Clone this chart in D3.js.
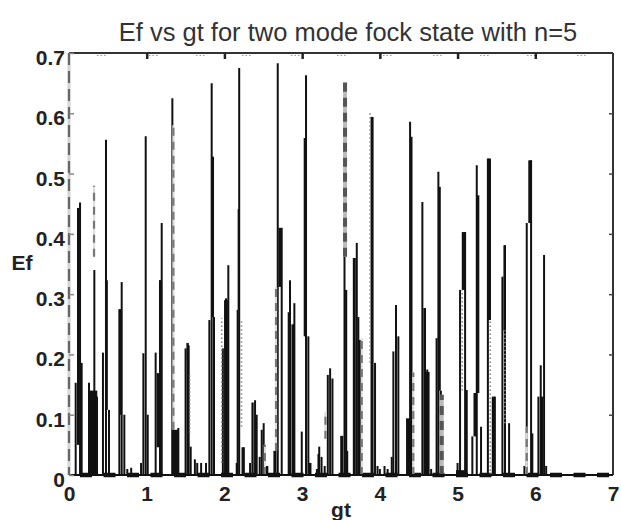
<!DOCTYPE html>
<html>
<head>
<meta charset="utf-8">
<script src="https://cdn.jsdelivr.net/npm/d3@7"></script>
<style>
  html, body { margin: 0; padding: 0; background: #fff; }
  svg { display: block; }
  text { font-family: "Liberation Sans", Arial, Helvetica, sans-serif; fill: #222; }
</style>
</head>
<body>
<svg id="chart" width="621" height="520"></svg>
<script>
// ---------- data ----------
const titleText = "Ef vs gt for two mode fock state with n=5";
const xLabel = "gt";
const yLabel = "Ef";
const xTicks = [0, 1, 2, 3, 4, 5, 6, 7];
const xTickLabels = ["0", "1", "2", "3", "4", "5", "6", "7"];
const yTicks = [0, 0.1, 0.2, 0.3, 0.4, 0.5, 0.6, 0.7];
const yTickLabels = ["0", "0.1", "0.2", "0.3", "0.4", "0.5", "0.6", "0.7"];

// thin spikes: [gt, Ef peak]
const spikes = [
  [0.086,0.153],[0.142,0.452],[0.163,0.186],
  [0.257,0.153],[0.326,0.34],[0.36,0.13],
  [0.437,0.203],[0.476,0.556],[0.515,0.108],
  [0.648,0.275],[0.678,0.32],[0.712,0.1],[0.75,0.01],[0.8,0.012],
  [0.927,0.02],[0.957,0.202],[0.987,0.562],[1.013,0.1],
  [1.115,0.203],[1.171,0.323],[1.193,0.418],
  [1.33,0.625],[1.407,0.078],
  [1.5,0.21],[1.525,0.219],[1.54,0.215],[1.566,0.047],[1.62,0.026],[1.65,0.02],[1.7,0.02],
  [1.763,0.02],[1.806,0.257],[1.836,0.65],[1.866,0.262],
  [1.98,0.21],[2.02,0.293],[2.05,0.348],
  [2.158,0.02],[2.17,0.274],[2.19,0.675],[2.25,0.046],
  [2.33,0.02],[2.36,0.12],[2.394,0.124],[2.415,0.1],
  [2.454,0.03],[2.48,0.075],[2.505,0.086],
  [2.686,0.683],[2.737,0.41],
  [2.844,0.323],[2.9,0.285],
  [2.995,0.072],[3.05,0.663],[3.08,0.23],
  [3.19,0.01],[3.21,0.035],[3.22,0.047],[3.25,0.03],[3.29,0.015],
  [3.33,0.166],[3.36,0.177],[3.39,0.16],
  [3.545,0.362],[3.58,0.04],
  [3.665,0.36],[3.703,0.385],[3.723,0.262],
  [3.904,0.594],[3.938,0.186],[3.97,0.015],[4.0,0.01],
  [4.06,0.015],[4.1,0.01],[4.153,0.03],[4.174,0.205],[4.208,0.282],[4.238,0.23],
  [4.389,0.586],
  [4.547,0.453],[4.61,0.175],[4.66,0.01],
  [4.73,0.227],[4.753,0.503],[4.785,0.14],
  [5.0,0.02],[5.032,0.307],[5.097,0.403],[5.118,0.141],
  [5.19,0.064],[5.247,0.514],[5.302,0.08],
  [5.39,0.525],[5.48,0.13],
  [5.577,0.329],[5.61,0.381],[5.663,0.086],
  [5.86,0.015],[5.89,0.418],[5.946,0.522],[5.962,0.069],
  [6.04,0.13],[6.07,0.182],[6.113,0.365],[6.14,0.015]
];

// filled dense segments: [gt0, gt1, Ef low, Ef high]
const blocks = [
  [0.103,0.135,0.05,0.443],
  [0.266,0.364,0,0.14],
  [0.463,0.5,0.108,0.323],
  [0.648,0.672,0.1,0.275],
  [1.128,1.19,0.046,0.169],[1.158,1.19,0.169,0.323],
  [1.33,1.35,0.075,0.315],[1.32,1.41,0,0.075],
  [1.515,1.54,0.19,0.219],
  [1.836,1.866,0.262,0.528],
  [1.995,2.045,0,0.29],
  [2.17,2.2,0.274,0.441],[2.22,2.25,0,0.046],
  [2.355,2.37,0,0.12],
  [2.53,2.565,0,0.015],
  [2.63,2.67,0,0.04],[2.695,2.73,0.312,0.41],
  [2.814,2.845,0,0.27],[2.862,2.9,0,0.25],
  [3.02,3.06,0.23,0.559],[3.08,3.12,0,0.02],
  [3.49,3.53,0,0.065],[3.552,3.58,0,0.307],
  [3.66,3.69,0,0.36],[3.73,3.77,0,0.224],
  [3.88,3.916,0,0.594],
  [4.337,4.39,0,0.094],[4.39,4.42,0,0.561],
  [4.56,4.594,0,0.277],[4.58,4.64,0,0.171],
  [4.753,4.784,0.14,0.478],
  [5.054,5.097,0.307,0.403],[4.98,5.12,0,0.008],
  [5.205,5.24,0.064,0.136],[5.247,5.28,0.136,0.464],
  [5.39,5.43,0.257,0.525],[5.44,5.48,0,0.13],
  [5.59,5.62,0.24,0.381],
  [5.91,5.955,0.418,0.522],
  [6.07,6.1,0,0.13]
];

// grey dashed traces: [gt, Ef low, Ef high, heavy(1)/light(0)]
const dashedTraces = [
  [0.322,0.362,0.48,0],
  [1.343,0.075,0.58,0],
  [2.52,0,0.05,0],
  [2.664,0.04,0.312,0],
  [3.3,0.06,0.105,0],
  [3.552,0.362,0.652,1],
  [3.767,0,0.227,0],
  [4.43,0,0.17,0],
  [4.796,0,0.133,1],
  [5.89,0,0.08,0]
];

// dotted traces: [gt, Ef low, Ef high]
const dottedTraces = [
  [1.553,0.07,0.169],
  [1.965,0.02,0.26],
  [2.22,0.08,0.255],
  [3.874,0.186,0.602],
  [5.06,0.14,0.307],
  [5.42,0,0.257],
  [5.61,0.086,0.24]
];

// faint dotted marks along the top edge
const topMarks = [0.425, 1.094, 1.699, 2.29, 2.92, 3.513, 4.105, 4.749, 5.354, 5.958, 6.602];

// ---------- drawing ----------
const svg = d3.select("#chart");
const x = d3.scaleLinear().domain([0, 7]).range([69, 613]);
const y = d3.scaleLinear().domain([0, 0.7]).range([475, 53]);

// title
svg.append("text")
  .attr("x", 348).attr("y", 41)
  .attr("text-anchor", "middle")
  .attr("font-size", 25.5)
  .style("fill", "#333")
  .text(titleText);

// axis labels
svg.append("text")
  .attr("x", 22).attr("y", 270)
  .attr("text-anchor", "middle")
  .attr("font-size", 21).attr("font-weight", "bold")
  .text(yLabel);
svg.append("text")
  .attr("x", 341).attr("y", 517)
  .attr("text-anchor", "middle")
  .attr("font-size", 21).attr("font-weight", "bold")
  .text(xLabel);

const plot = svg.append("g");

// baseline dashes (data at zero)
plot.append("line")
  .attr("x1", x(0)).attr("x2", x(7))
  .attr("y1", y(0)).attr("y2", y(0))
  .attr("stroke", "#111").attr("stroke-width", 4.5)
  .attr("stroke-dasharray", "12,11.5")
  .attr("stroke-dashoffset", -((550 - x(0)) % 23.5) + 23.5);

// blocks
plot.selectAll("rect.block").data(blocks).join("rect")
  .attr("class", "block")
  .attr("x", d => x(d[0]))
  .attr("width", d => Math.max(1.5, x(d[1]) - x(d[0])))
  .attr("y", d => y(d[3]))
  .attr("height", d => Math.max(1, y(d[2]) - y(d[3])))
  .attr("fill", "#111");

// spikes
plot.selectAll("line.spike").data(spikes).join("line")
  .attr("class", "spike")
  .attr("x1", d => x(d[0])).attr("x2", d => x(d[0]))
  .attr("y1", y(0)).attr("y2", d => y(d[1]))
  .attr("stroke", "#111").attr("stroke-width", 2);

// dashed traces
plot.selectAll("line.dtrace").data(dashedTraces).join("line")
  .attr("class", "dtrace")
  .attr("x1", d => x(d[0])).attr("x2", d => x(d[0]))
  .attr("y1", d => y(d[1])).attr("y2", d => y(d[2]))
  .attr("stroke", d => d[3] ? "#bbb" : "#ddd")
  .attr("stroke-width", d => d[3] ? 4 : 2.2);
plot.selectAll("line.dtrace2").data(dashedTraces).join("line")
  .attr("class", "dtrace2")
  .attr("x1", d => x(d[0])).attr("x2", d => x(d[0]))
  .attr("y1", d => y(d[1])).attr("y2", d => y(d[2]))
  .attr("stroke", d => d[3] ? "#555" : "#777")
  .attr("stroke-width", d => d[3] ? 4 : 2.2)
  .attr("stroke-dasharray", d => d[3] ? "9,6" : "8,6");

// dotted traces
plot.selectAll("line.dot").data(dottedTraces).join("line")
  .attr("class", "dot")
  .attr("x1", d => x(d[0])).attr("x2", d => x(d[0]))
  .attr("y1", d => y(d[1])).attr("y2", d => y(d[2]))
  .attr("stroke", "#888").attr("stroke-width", 1.6)
  .attr("stroke-dasharray", "1.5,2.5");

// top dotted marks
plot.selectAll("line.tm").data(topMarks).join("line")
  .attr("class", "tm")
  .attr("x1", d => x(d) - 5).attr("x2", d => x(d) + 5)
  .attr("y1", y(0.7) + 2.5).attr("y2", y(0.7) + 2.5)
  .attr("stroke", "#999").attr("stroke-width", 1.2)
  .attr("stroke-dasharray", "1.5,2");

// frame: top, right, bottom solid; left dashed grey
svg.append("line").attr("x1", x(0)).attr("x2", x(7)).attr("y1", y(0.7)).attr("y2", y(0.7))
  .attr("stroke", "#333").attr("stroke-width", 2);
svg.append("line").attr("x1", x(7)).attr("x2", x(7)).attr("y1", y(0.7)).attr("y2", y(0))
  .attr("stroke", "#333").attr("stroke-width", 2);
svg.append("line").attr("x1", x(0)).attr("x2", x(7)).attr("y1", y(0)).attr("y2", y(0))
  .attr("stroke", "#111").attr("stroke-width", 2);
svg.append("line").attr("x1", x(0)).attr("x2", x(0)).attr("y1", y(0.7)).attr("y2", y(0))
  .attr("stroke", "#d4d4d4").attr("stroke-width", 3);
svg.append("line").attr("x1", x(0)).attr("x2", x(0)).attr("y1", y(0.7)).attr("y2", y(0))
  .attr("stroke", "#666").attr("stroke-width", 2.2)
  .attr("stroke-dasharray", "12,6");

// left axis (ticks + labels)
const yAxis = d3.axisLeft(y).tickValues(yTicks)
  .tickFormat((d, i) => yTickLabels[i]).tickSize(-5).tickPadding(4);
const gy = svg.append("g").attr("transform", `translate(${x(0)},0)`).call(yAxis);
gy.select(".domain").remove();
gy.selectAll(".tick line").attr("stroke", "#888").attr("stroke-width", 1.5);
gy.selectAll(".tick text")
  .attr("font-size", 21).attr("font-weight", "bold")
  .attr("dy", 11.5)
  .style("font-family", "'Liberation Sans', Arial, sans-serif")
  .style("fill", "#222");

// right axis ticks
const yAxisR = d3.axisRight(y).tickValues(yTicks.slice(1, 7)).tickFormat("").tickSize(-4);
const gyr = svg.append("g").attr("transform", `translate(${x(7)},0)`).call(yAxisR);
gyr.select(".domain").remove();
gyr.selectAll(".tick line").attr("stroke", "#444").attr("stroke-width", 1.5);

// bottom axis labels
const xAxis = d3.axisBottom(x).tickValues(xTicks)
  .tickFormat((d, i) => xTickLabels[i]).tickSize(0).tickPadding(0);
const gx = svg.append("g").attr("transform", `translate(0,${y(0)})`).call(xAxis);
gx.select(".domain").remove();
gx.selectAll(".tick text")
  .attr("y", 26).attr("dy", 0)
  .attr("font-size", 21).attr("font-weight", "bold")
  .style("font-family", "'Liberation Sans', Arial, sans-serif")
  .style("fill", "#222");

// top axis ticks
const xAxisT = d3.axisTop(x).tickValues(xTicks.slice(1, 7)).tickFormat("").tickSize(-6);
const gxt = svg.append("g").attr("transform", `translate(0,${y(0.7)})`).call(xAxisT);
gxt.select(".domain").remove();
gxt.selectAll(".tick line").attr("stroke", "#222").attr("stroke-width", 2.5);
</script>
</body>
</html>
